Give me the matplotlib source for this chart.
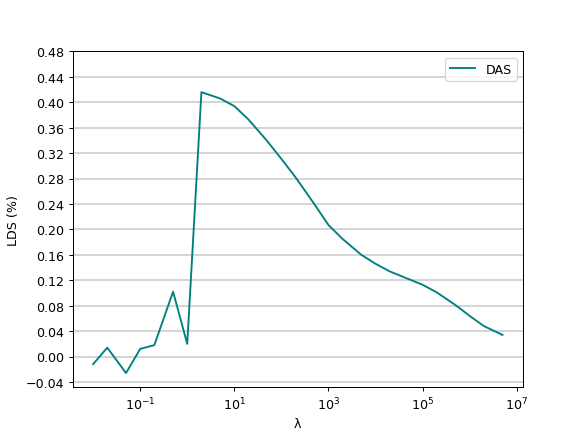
import numpy as np
import matplotlib
matplotlib.use("Agg")
import matplotlib.pyplot as plt

lambdas = [0.01, 0.02, 0.05, 0.1, 0.2, 0.5, 1, 2, 5, 10, 20, 50, 100, 200, 500,
           1e3, 2e3, 5e3, 1e4, 2e4, 5e4, 1e5, 2e5, 5e5, 1e6, 2e6, 5e6]
lds_das = [-0.012, 0.014, -0.026, 0.012, 0.018, 0.102, 0.020, 0.416, 0.406, 0.394,
           0.373, 0.339, 0.311, 0.282, 0.240, 0.207, 0.185, 0.160, 0.146, 0.134,
           0.122, 0.113, 0.101, 0.081, 0.064, 0.048, 0.034]
yticks = np.round(np.arange(-0.04, 0.481, 0.04), 2)

fig, ax = plt.subplots(figsize=(6.4, 4.8), dpi=90.8)
ax.plot(lambdas, lds_das, color="teal", label="DAS")
ax.set_xscale("log")
ax.set_yticks(yticks)
ax.set_yticklabels([("%.2f" % t).replace("-", "\u2212") for t in yticks])
ax.set_ylim(-0.048, 0.48)
ax.yaxis.grid(True, color="#c8c8c8", linewidth=1.2)
ax.set_xlabel("λ")
ax.set_ylabel("LDS (%)")
ax.legend(loc="upper right")
fig.savefig("out.png", dpi=90.8)
